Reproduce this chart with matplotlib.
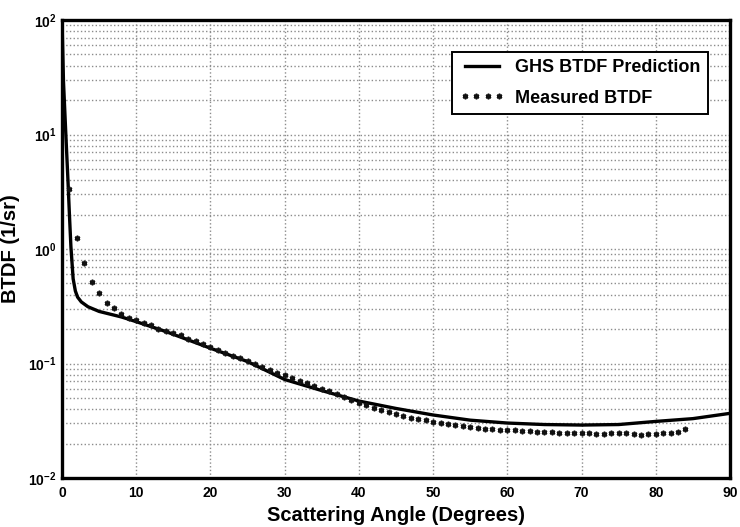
import matplotlib
matplotlib.use("Agg")
import matplotlib.pyplot as plt
import matplotlib.ticker as ticker
import numpy as np

# GHS BTDF prediction curve
pred_angle = [0.0, 0.2, 0.5, 0.8, 1.0, 1.2, 1.5, 1.8, 2.1, 2.6, 3.5, 5, 8, 10, 14,
              18, 20, 25, 30, 35, 40, 45, 50, 55, 60, 65, 70, 75, 80, 85, 90]
pred_btdf = [100, 29, 10.6, 4.0, 2.0, 1.05, 0.55, 0.43, 0.38, 0.345, 0.313, 0.285,
             0.255, 0.232, 0.19, 0.152, 0.136, 0.104, 0.0725, 0.058, 0.047, 0.0405,
             0.0355, 0.032, 0.0302, 0.0293, 0.029, 0.0293, 0.0312, 0.033, 0.0367]

# measured BTDF, one point per degree from 1 to 84
meas_angle = list(range(1, 85))
meas_btdf = [3.35, 1.24, 0.76, 0.51, 0.41, 0.336, 0.303, 0.268, 0.252, 0.238,
             0.228, 0.215, 0.202, 0.194, 0.185, 0.176, 0.165, 0.156, 0.147, 0.139,
             0.131, 0.124, 0.117, 0.111, 0.105, 0.099, 0.093, 0.088, 0.083, 0.079,
             0.075, 0.071, 0.067, 0.063, 0.060, 0.057, 0.054, 0.051, 0.048, 0.0455,
             0.043, 0.041, 0.039, 0.0375, 0.036, 0.0348, 0.0337, 0.0327, 0.0318, 0.031,
             0.0302, 0.0295, 0.0289, 0.0283, 0.0278, 0.0272, 0.0270, 0.0268, 0.0265, 0.0263,
             0.0262, 0.0258, 0.0257, 0.0253, 0.0252, 0.0250, 0.0247, 0.0245, 0.0246, 0.0249,
             0.0246, 0.0243, 0.0244, 0.0245, 0.0246, 0.0246, 0.0244, 0.0236, 0.0242, 0.0244,
             0.0246, 0.0246, 0.0252, 0.0268]

x_ticks = [0, 10, 20, 30, 40, 50, 60, 70, 80, 90]

plt.rcParams['font.family'] = ['Liberation Sans', 'DejaVu Sans']
plt.rcParams['mathtext.fontset'] = 'custom'
plt.rcParams['mathtext.rm'] = 'Liberation Sans:bold'
plt.rcParams['mathtext.bf'] = 'Liberation Sans:bold'

fig = plt.figure(figsize=(7.4, 5.27), dpi=100)
ax = fig.add_axes([62/740, 1-478/527, 668/740, 458/527])

ax.plot(pred_angle, pred_btdf, color='black', lw=2.4, label='GHS BTDF Prediction', zorder=3)
ax.plot(meas_angle, meas_btdf, ls='none', marker=(6, 2, 0), ms=4, mew=1.2,
        color='#111111', label='Measured BTDF', zorder=4)

ax.set_yscale('log')
ax.set_xlim(0, 90)
ax.set_ylim(1e-2, 1e2)
ax.set_xticks(x_ticks)
ax.yaxis.set_major_locator(ticker.LogLocator(base=10, numticks=10))
ax.yaxis.set_minor_locator(ticker.LogLocator(base=10, subs=np.arange(2, 10), numticks=20))
ax.yaxis.set_major_formatter(ticker.FuncFormatter(lambda v, p: r'$\mathbf{10^{%d}}$' % round(np.log10(v))))
ax.yaxis.set_minor_formatter(ticker.NullFormatter())

ax.grid(True, which='major', axis='x', ls=':', color='#8c8c8c', lw=1.0)
ax.grid(True, which='both', axis='y', ls=':', color='#8c8c8c', lw=1.0)

ax.tick_params(which='both', length=0, labelsize=10)
ax.tick_params(axis='x', pad=6)
ax.tick_params(axis='y', pad=4)
for lab in ax.get_xticklabels():
    lab.set_fontweight('bold')

for s in ax.spines.values():
    s.set_linewidth(2.4)
    s.set_color('black')

ax.set_xlabel('Scattering Angle (Degrees)', fontsize=14.5, fontweight='bold', labelpad=4)
ax.set_ylabel('BTDF (1/sr)', fontsize=14.5, fontweight='bold', labelpad=6)

leg = ax.legend(loc='upper right', bbox_to_anchor=((708-62)/668, (478-52)/458),
                borderaxespad=0, fancybox=False, framealpha=1, edgecolor='black',
                numpoints=4, handlelength=2.5, handletextpad=0.6,
                prop={'weight': 'bold', 'size': 13}, labelspacing=0.75,
                borderpad=0.4)
leg.get_frame().set_linewidth(1.4)

fig.savefig('out.png', dpi=100)
